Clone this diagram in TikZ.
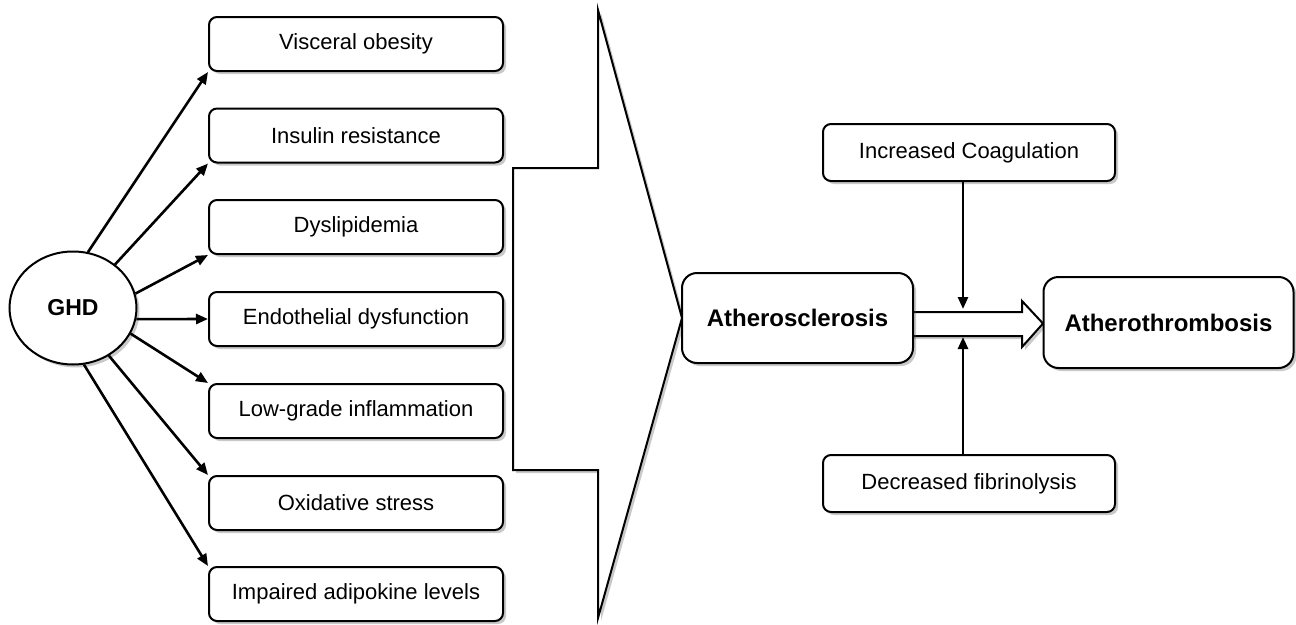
\documentclass[tikz,border=0pt]{standalone}
\usepackage{fontspec}
\setmainfont{Liberation Sans}
\usetikzlibrary{shapes.geometric,shadows,arrows.meta}
\begin{document}
\begin{tikzpicture}[x=1pt,y=-1pt,
  sh/.style={drop shadow={shadow xshift=3pt,shadow yshift=-3pt,opacity=0.3,fill=black!70}},
  box/.style={draw, line width=2pt, rounded corners=8pt, fill=white, sh,
    minimum width=294pt, minimum height=54pt, inner sep=0pt,
    font=\fontsize{22}{24}\selectfont},
  rbox/.style={box, minimum width=292pt, minimum height=57pt},
  bbox/.style={draw, line width=2pt, rounded corners=15pt, fill=white, sh,
    minimum height=90pt, inner sep=0pt, font=\bfseries\fontsize{24}{28}\selectfont},
  arr/.style={line width=2.6pt, -{Triangle[length=12pt,width=10pt]}}]
\useasboundingbox (0,0) rectangle (1296,624);

% big arrow shape
\draw[line width=2pt, fill=white, sh, line join=miter]
  (598,10) -- (682,318) -- (598,618) -- (598,470) -- (513,470) -- (513,168) -- (598,168) -- cycle;

% block arrow
\draw[line width=2pt, fill=white, sh, line join=miter]
  (900,312) -- (1022,312) -- (1022,301) -- (1043,323.5) -- (1022,347) -- (1022,336) -- (900,336) -- cycle;

% ellipse
\node[ellipse, draw, line width=2pt, fill=white, sh, minimum width=127pt, minimum height=113pt,
  inner sep=0pt, font=\bfseries\fontsize{23}{26}\selectfont] (ghd) at (73,308) {GHD};

% left boxes
\node[box] (vo)  at (356,44)    {Visceral obesity};
\node[box] (ir)  at (356,135.5) {Insulin resistance};
\node[box] (dy)  at (356,227)   {Dyslipidemia};
\node[box] (ed)  at (356,319)   {Endothelial dysfunction};
\node[box] (lg)  at (356,411)   {Low-grade inflammation};
\node[box] (os)  at (356,503)   {Oxidative stress};
\node[box] (ia)  at (356,594)   {Impaired adipokine levels};

% right side
\node[bbox, minimum width=231pt] (ath) at (797.5,318) {Atherosclerosis};
\node[bbox, minimum width=250pt, minimum height=91pt] (atb) at (1168.5,322.5) {Atherothrombosis};
\node[rbox] (ic) at (969,152.5) {Increased Coagulation};
\node[rbox] (df) at (969,483.5) {Decreased fibrinolysis};

% arrows from GHD
\draw[arr] (ghd.75)  -- (vo.south west);
\draw[arr] (ghd.46)  -- (ir.south west);
\draw[arr] (ghd.13)  -- (dy.south west);
\draw[arr] (ghd.-10) -- (ed.west);
\draw[arr] (ghd.-24) -- (lg.north west);
\draw[arr] (ghd.-53) -- (os.north west);
\draw[arr] (ghd.-79) -- (ia.north west);

% vertical arrows
\coordinate (j1) at (963,309);
\coordinate (j2) at (963,337);
\draw[arr] (ic.south -| j1) -- (j1);
\draw[arr] (df.north -| j2) -- (j2);
\end{tikzpicture}
\end{document}
